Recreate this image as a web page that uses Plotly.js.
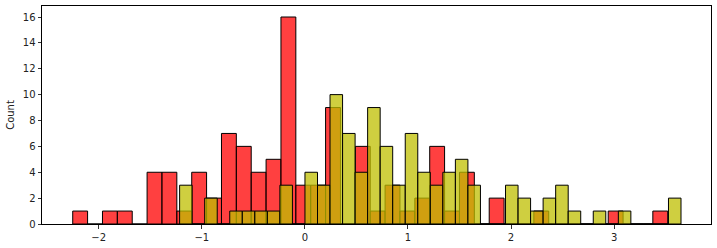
<!DOCTYPE html>
<html>
<head>
<meta charset="utf-8">
<script src="https://cdn.plot.ly/plotly-3.0.1.min.js"></script>
<style>html,body{margin:0;padding:0;background:#fff;}#chart{width:717px;height:248px;}</style>
</head>
<body>
<div id="chart"></div>
<script>
// Histogram bin geometry (40 bins each)
const redBinStart = -2.252;
const redBinWidth = 0.1443;
const yellowBinStart = -1.215;
const yellowBinWidth = 0.1216;

// Counts per bin
const redCounts = [1,0,1,1,0,4,4,1,4,2,7,6,4,5,16,3,3,9,0,6,1,3,1,2,6,1,4,0,2,0,0,1,0,0,0,0,1,0,0,1];
const yellowCounts = [3,0,2,0,1,1,1,1,3,0,4,3,10,7,4,9,6,3,7,4,3,4,5,3,0,0,3,2,1,2,3,1,0,1,0,1,0,0,0,2];

const xTicks = [-2,-1,0,1,2,3];
const yTicks = [0,2,4,6,8,10,12,14,16];

function centers(start, w, n){ const c=[]; for(let i=0;i<n;i++) c.push(start + w*(i+0.5)); return c; }

const traces = [
  {type:'bar', x:centers(redBinStart, redBinWidth, redCounts.length), y:redCounts, width:redBinWidth,
   marker:{color:'rgba(255,0,0,0.75)', line:{color:'black', width:1}}, hoverinfo:'x+y'},
  {type:'bar', x:centers(yellowBinStart, yellowBinWidth, yellowCounts.length), y:yellowCounts, width:yellowBinWidth,
   marker:{color:'rgba(191,191,0,0.75)', line:{color:'black', width:1}}, hoverinfo:'x+y'}
];

const font = {family:'DejaVu Sans', size:10, color:'#222'};
const layout = {
  width:717, height:248,
  margin:{l:42, r:6, t:6, b:24},
  barmode:'overlay', showlegend:false,
  paper_bgcolor:'white', plot_bgcolor:'white',
  font:font,
  xaxis:{range:[-2.55,3.94], tickvals:xTicks, ticks:'outside', ticklen:3.5, tickwidth:0.8, tickcolor:'black',
         showline:true, linecolor:'black', linewidth:1, mirror:true, showgrid:false, zeroline:false, tickfont:font},
  yaxis:{range:[0,16.85], tickvals:yTicks, ticks:'outside', ticklen:3.5, tickwidth:0.8, tickcolor:'black',
         showline:true, linecolor:'black', linewidth:1, mirror:true, showgrid:false, zeroline:false, tickfont:font,
         title:{text:'Count', font:font, standoff:6}}
};
Plotly.newPlot('chart', traces, layout, {displayModeBar:false, staticPlot:true});
</script>
</body>
</html>
